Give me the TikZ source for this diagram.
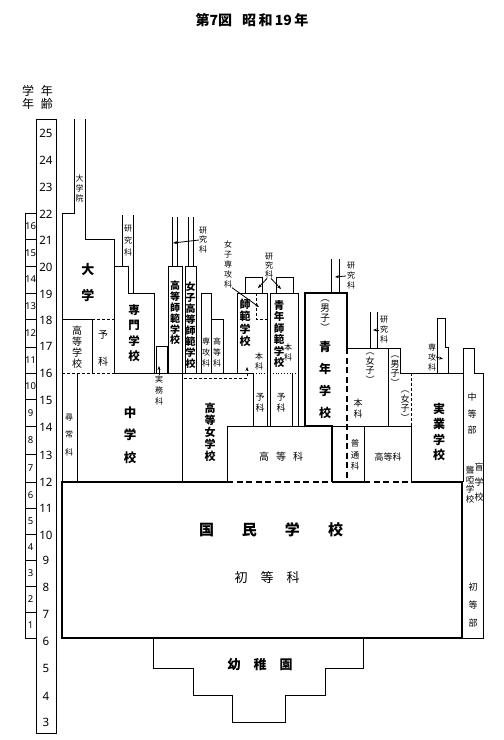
\documentclass[tikz,border=0pt]{standalone}
\usepackage{fontspec}
\setmainfont{Noto Sans CJK JP}
\newfontfamily\numf{Noto Sans}
\usetikzlibrary{arrows.meta}
\makeatletter
\newcommand\vt[2]{\vbox{\baselineskip=#1pt\lineskiplimit=-100pt\lineskip=0pt\relax\@tfor\vt@c:=#2\do{\hbox to 0pt{\hss\vt@c\hss}}}}
\makeatother
\newcommand\fs[1]{\fontsize{#1}{#1}\selectfont}
\begin{document}
\begin{tikzpicture}[x=1pt,y=-1pt,
  ln/.style={line width=0.8pt},
  thk/.style={line width=2.4pt},
  tdash/.style={dash pattern=on 6pt off 3.5pt},
  sdash/.style={dash pattern=on 3pt off 2pt},
  txt/.style={inner sep=0pt,outer sep=0pt},
  arr/.style={-{Stealth[length=4pt,width=3pt]}},
  lbl/.style={txt,font=\fs{8}},
  std/.style={txt,font=\fs{10}},
]
\fill[white] (0,0) rectangle (504,740);
\useasboundingbox (0,0) rectangle (504,740);

% title and headers
\node[txt,font=\bfseries\fs{14}] (title) at (252,20) {第7図\hspace{10pt}昭\,和\,19\,年};
\node[txt,font=\fs{12}] (hdg) at (28,97) {\vt{13}{学年}};
\node[txt,font=\fs{12}] (hda) at (47,97) {\vt{13}{年齢}};

% scale columns
\draw[ln] (36,119) rectangle (56,733);
\draw[ln] (25,213) rectangle (36,638);
\foreach \y in {239.5,266,293,319.5,347,373,399.5,426,454,482,508,534,560,586,612}
  \draw[ln] (25,\y) -- (36,\y);
\foreach \a/\y in {25/133,24/160,23/187,22/214,21/240,20/267,19/294,18/320,17/346,16/373,15/400,14/427,13/455,12/482,11/508,10/535,9/560,8/587,7/614,6/641,5/668,4/696,3/722}
  \node[txt,font=\numf\fs{11.5}] (age\a) at (46,\y) {\a};
\foreach \g/\y in {16/226.25,15/252.75,14/279.5,13/306.25,12/333.25,11/360,10/386.25,9/412.75,8/440,7/468,6/495,5/521,4/547,3/573,2/599,1/625}
  \node[txt,font=\numf\fs{9.5}] (gr\g) at (30.5,\y) {\g};

% 大学院・大学・高等学校
\draw[ln] (74,119) -- (74,213) -- (62,213) -- (62,482);
\draw[ln] (85,119) -- (85,239.5) -- (114,239.5) -- (114,373);
\draw[ln] (62,319.5) -- (92,319.5);
\draw[ln,sdash] (92,319.5) -- (114,319.5);
\draw[ln] (92,319.5) -- (92,373);
\draw[ln,sdash] (62,373) -- (114,373);
\draw[ln] (114,373) -- (253,373);
% 専門学校
\draw[ln] (114,266) -- (128,266) -- (128,293) -- (154,293) -- (154,373);
\draw[ln] (122,215) -- (122,266);
\draw[ln] (133,215) -- (133,293);
% 実務科 box
\draw[ln] (156,373) -- (156,346) -- (167,346) -- (167,373);
% 高等師範・女子高等師範
\draw[ln] (168,373) -- (168,266) -- (182,266) -- (182,373);
\draw[ln] (185,373) -- (185,266) -- (196,266) -- (196,373);
\foreach \x in {172,177,188,193} \draw[ln] (\x,217) -- (\x,266);
% 専攻科・高等科
\draw[ln] (201,373) -- (201,293) -- (211,293) -- (211,373);
\draw[ln] (211,319.5) -- (223,319.5) -- (223,373);
% 師範学校・青年師範学校
\draw[ln] (237,373) -- (237,293) -- (267,293) -- (267,373);
\draw[ln] (245,293) -- (245,277) -- (262,277) -- (262,293);
\draw[ln,sdash] (256,293) -- (256,319.5) -- (267,319.5);
\draw[ln] (270,373) -- (270,293) -- (298,293) -- (298,373);
\draw[ln] (276,293) -- (276,277) -- (293,277) -- (293,293);
\draw[ln,dotted] (253,373) -- (267,373);
\draw[ln,dotted] (270,373) -- (298,373);
\foreach \x in {253,267,270,292,298} \draw[ln] (\x,373) -- (\x,426);
% 中学校・高等女学校・高等科
\draw[ln] (77,373) -- (77,482);
\draw[ln] (182,373) -- (182,482);
\draw[ln] (253,426) -- (227,426) -- (227,482);
\draw[ln] (253,426) -- (305,426);
% 青年学校
\draw[thk] (305,426) -- (305,293) -- (347,293) -- (347,348);
\draw[thk,tdash] (347,348) -- (347,482);
\draw[thk] (305,426) -- (332,426) -- (332,482);
\draw[ln] (331,259) -- (331,293);
\draw[ln] (339,259) -- (339,293);
\draw[ln] (347,348) -- (400,348) -- (400,373) -- (463,373);
\draw[ln] (388,348) -- (388,426);
\draw[ln,sdash] (411,373) -- (411,426);
\draw[ln] (332,426) -- (411,426);
\draw[ln] (364,426) -- (364,482);
\draw[ln] (411,426) -- (411,482);
\draw[ln] (370,312) -- (370,348);
\draw[ln] (377,312) -- (377,348);
% 実業学校 専攻科
\draw[ln] (437,373) -- (437,318) -- (445,318) -- (445,347) -- (448,347) -- (448,373);
% 盲学校・聾啞学校
\draw[ln] (463,482) -- (463,348) -- (474,348) -- (474,373) -- (483,373) -- (483,638) -- (462,638);
% 国民学校
\draw[thk] (227,482) -- (62,482) -- (62,638) -- (462,638) -- (462,482) -- (411,482);
\draw[thk,tdash] (227,482) -- (332,482);
\draw[thk] (332,482) -- (364,482);
\draw[thk,tdash] (364,482) -- (411,482);
% 幼稚園
\draw[ln] (153,638) -- (153,668) -- (193,668) -- (193,695) -- (232,695) -- (232,722) -- (285,722) -- (285,695) -- (325,695) -- (325,668) -- (363,668) -- (363,638);

% texts
\node[lbl] (daigakuin) at (79.5,188) {\vt{10}{大学院}};
\node[txt,font=\bfseries\fs{13}] (daigaku) at (88,283) {\vt{26}{大学}};
\node[std] (koko) at (77,347) {\vt{11}{高等学校}};
\node[std] (yoka1) at (103,348.5) {\vt{27}{予科}};
\node[lbl] (kk1) at (128,241) {\vt{12}{研究科}};
\node[txt,font=\bfseries\fs{11.5}] (senmon) at (134,333) {\vt{15.5}{専門学校}};
\node[lbl] (jitsumu) at (159,390) {\vt{11}{実務科}};
\node[txt,font=\bfseries\fs{10}] (koshi) at (175,313) {\vt{10.8}{高等師範学校}};
\node[txt,font=\bfseries\fs{10}] (joshikoshi) at (190.5,325) {\vt{11}{女子高等師範学校}};
\node[lbl] (kk2) at (203,240) {\vt{9.5}{研究科}};
\node[lbl] (senko1) at (206,352) {\vt{11}{専攻科}};
\node[lbl] (kotoka1) at (217,352) {\vt{11}{高等科}};
\node[lbl] (joshisenko) at (228,264) {\vt{10}{女子専攻科}};
\node[lbl] (kk3) at (269,266) {\vt{9}{研究科}};
\node[txt,font=\bfseries\fs{11}] (shihan) at (245,323) {\vt{12.5}{師範学校}};
\node[lbl] (honka1) at (259,361) {\vt{10}{本科}};
\node[txt,font=\bfseries\fs{10.5}] (seinenshihan) at (279,334) {\vt{11.5}{青年師範学校}};
\node[lbl] (honka2) at (288,352) {\vt{10}{本科}};
\node[lbl,font=\fs{9}] (yoka2) at (260,403) {\vt{11}{予科}};
\node[lbl,font=\fs{9}] (yoka3) at (281,403) {\vt{11}{予科}};
\node[lbl] (jinjo) at (69,435) {\vt{17.5}{尋常科}};
\node[txt,font=\bfseries\fs{12.5}] (chugaku) at (130,435) {\vt{22.5}{中学校}};
\node[txt,font=\bfseries\fs{11}] (kojo) at (210,432) {\vt{12}{高等女学校}};
\node[std] (kotoka2) at (281,457) {高\hspace{7pt}等\hspace{7pt}科};
\node[txt,font=\fs{9.5}] (danshi1) at (325,316) {\vt{10}{︵男子︶}};
\node[txt,font=\bfseries\fs{12}] (seinen) at (325,380) {\vt{22}{青年学校}};
\node[lbl] (kk4) at (351,276) {\vt{10}{研究科}};
\node[txt,font=\fs{9}] (joshi1) at (370,368) {\vt{9.5}{︵女子︶}};
\node[txt,font=\fs{9}] (honka3) at (358,409) {\vt{11}{本科}};
\node[lbl] (kk5) at (384,330) {\vt{10}{研究科}};
\node[txt,font=\fs{9}] (danshi2) at (395,371) {\vt{9.5}{︵男子︶}};
\node[txt,font=\fs{9}] (joshi2) at (405,406) {\vt{9.5}{︵女子︶}};
\node[txt,font=\fs{8.5}] (futsu) at (355,455) {\vt{11.5}{普通科}};
\node[txt,font=\fs{9}] (kotoka3) at (388,457) {高等科};
\node[txt,font=\bfseries\fs{12}] (jitsugyo) at (439,432) {\vt{15.3}{実業学校}};
\node[lbl] (senko2) at (432,357) {\vt{10}{専攻科}};
\node[txt,font=\fs{9}] (chuto) at (472,414) {\vt{16.5}{中等部}};
\node[txt,font=\fs{9}] (mo) at (479,482) {\vt{15}{盲学校}};
\node[txt,font=\fs{8.5}] (roa) at (470,485) {\vt{9.5}{聾啞学校}};
\node[txt,font=\fs{9}] (shoto) at (473,605) {\vt{18}{初等部}};
\node[txt,font=\bfseries\fs{15}] (kokumin) at (271,530) {国\hspace{28pt}民\hspace{28pt}学\hspace{28pt}校};
\node[txt,font=\fs{13}] (shotoka) at (267,578) {初\hspace{13pt}等\hspace{13pt}科};
\node[txt,font=\bfseries\fs{13}] (yochien) at (260,665) {幼\hspace{13pt}稚\hspace{13pt}園};

% arrows
\coordinate (jmt) at (159,366);
\draw[ln,arr] (jitsumu.north) -- (jmt);
\coordinate (kjs) at (184,378);
\coordinate (kjt) at (247,367);
\draw[ln,sdash,arr] (kjs) -- (247,378) -- (kjt);
\coordinate (k2t) at (173,243);
\draw[ln,arr] ([xshift=-4pt]kk2.center) -- (k2t);
\coordinate (k3a) at (258,288);
\coordinate (k3b) at (281,289);
\draw[ln,arr] ([xshift=-2pt]kk3.south) -- (k3a);
\draw[ln,arr] ([xshift=2pt]kk3.south) -- (k3b);
\coordinate (jst) at (259,307);
\draw[ln,arr] ([xshift=4pt]joshisenko.south) -- (jst);
\coordinate (k4t) at (335,277);
\draw[ln,arr] ([xshift=-5pt]kk4.center) -- (k4t);
\coordinate (k5t) at (373,330);
\draw[ln,arr] ([xshift=-5pt]kk5.center) -- (k5t);
\coordinate (s2t) at (443,359);
\draw[ln,arr] ([xshift=4pt]senko2.center) -- (s2t);
\end{tikzpicture}
\end{document}
